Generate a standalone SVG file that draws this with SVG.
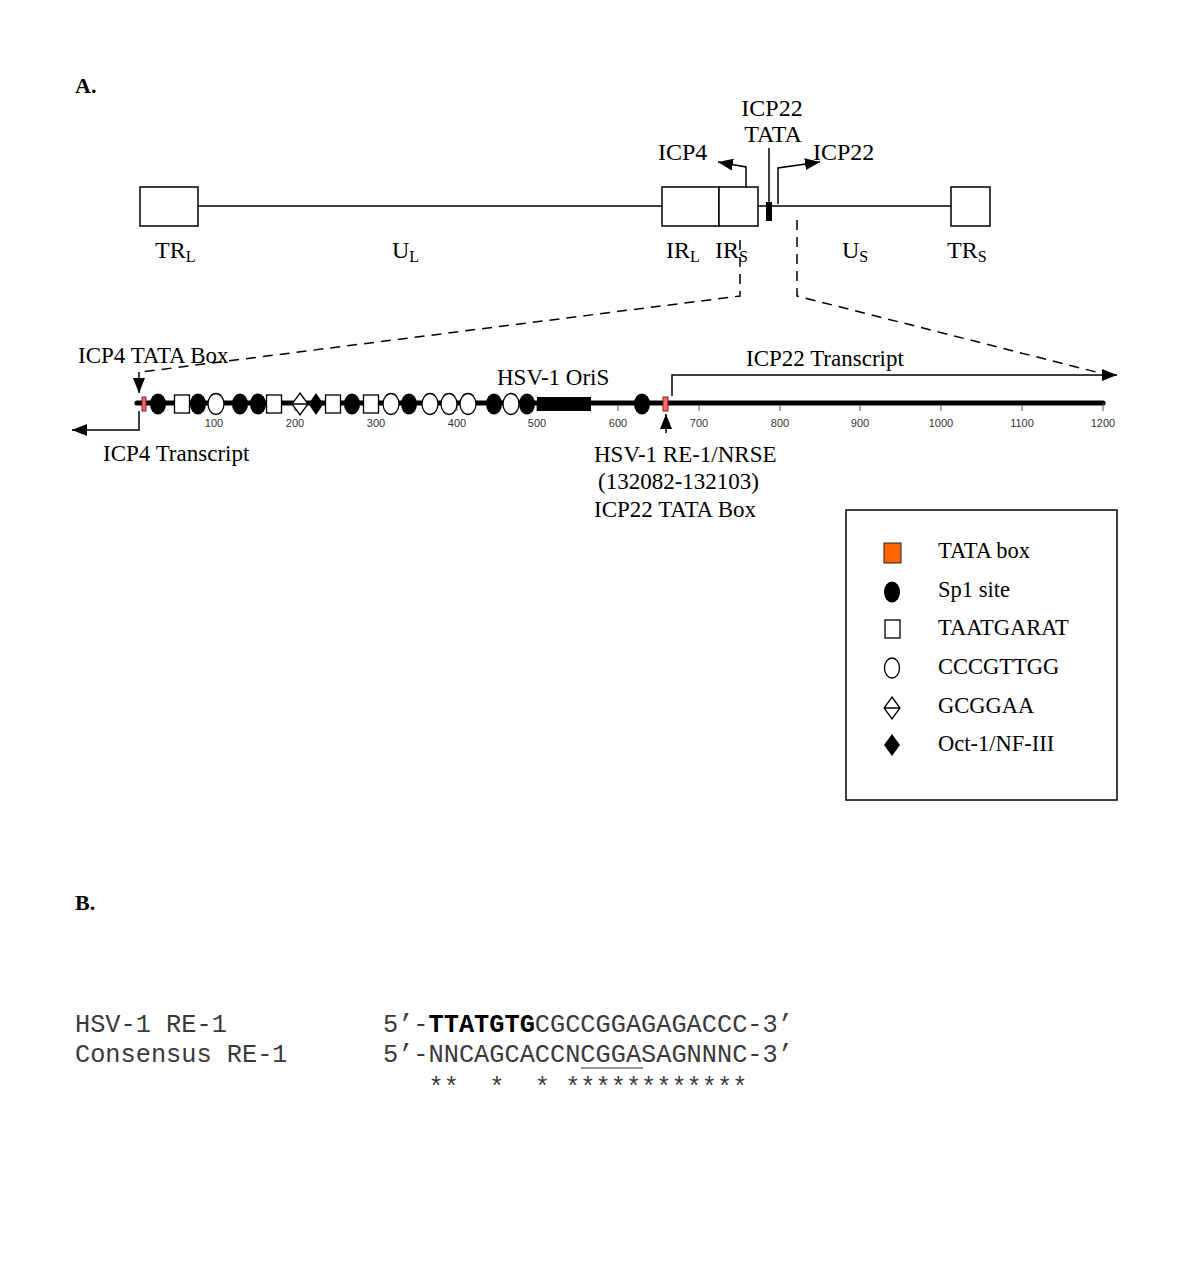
<svg xmlns="http://www.w3.org/2000/svg" width="1200" height="1286" viewBox="0 0 1200 1286">
<defs>
<style>
.serif{font-family:"Liberation Serif","Times New Roman",serif;fill:#000}
.lbl{font-size:24px}
.sub{font-size:16px}
.mid{font-size:23px}
.leg{font-size:22.5px}
.bold{font-weight:bold;font-size:22px}
.tick{font-family:"Liberation Sans",Arial,sans-serif;font-size:11px;fill:#333;text-anchor:middle}
.mono{font-family:"Liberation Mono","Courier New",monospace;font-size:25.3px;fill:#3a3a3a}
.box{fill:#fff;stroke:#000;stroke-width:1.5}
.sp1{fill:#000}
.open{fill:#fff;stroke:#000;stroke-width:1.3}
.tata{fill:#f26b6b;stroke:#8b1a1a;stroke-width:1}
.ln{fill:none;stroke:#000;stroke-width:1.5}
.dash{fill:none;stroke:#000;stroke-width:1.5;stroke-dasharray:10 7}
.tk{stroke:#555;stroke-width:1}
</style>
<marker id="ah" markerUnits="userSpaceOnUse" markerWidth="15" markerHeight="12" refX="15" refY="6" orient="auto">
<path d="M0,0 L15,6 L0,12 z" fill="#000"/>
</marker>
<ellipse id="sp" rx="8" ry="10.5" class="sp1"/>
<ellipse id="cc" rx="8" ry="10.5" class="open"/>
<rect id="sq" x="-7.5" y="-9" width="15" height="18" class="open"/>
</defs>
<rect width="1200" height="1286" fill="#fff"/>

<text class="serif bold" x="75" y="93">A.</text>
<text class="serif bold" x="75" y="910">B.</text>

<!-- Genome map -->
<g id="genome">
<line x1="198" y1="206" x2="662" y2="206" class="ln"/>
<line x1="758" y1="206" x2="951" y2="206" class="ln"/>
<g id="TRL"><rect x="140" y="187" width="58" height="39" class="box"/>
<text class="serif lbl" x="155" y="258">TR<tspan class="sub" dy="4">L</tspan></text></g>
<g id="UL"><text class="serif lbl" x="392" y="258">U<tspan class="sub" dy="4">L</tspan></text></g>
<g id="IRL"><rect x="662" y="187" width="57" height="39" class="box"/>
<text class="serif lbl" x="666" y="258">IR<tspan class="sub" dy="4">L</tspan></text></g>
<g id="IRS"><rect x="719" y="187" width="39" height="39" class="box"/>
<text class="serif lbl" x="715" y="258">IR<tspan class="sub" dy="4">S</tspan></text></g>
<g id="ICP22TATA"><rect x="766" y="202" width="6" height="19" fill="#000"/>
<line x1="769" y1="148" x2="769" y2="203" class="ln"/>
<text class="serif lbl" x="772" y="116" text-anchor="middle">ICP22</text>
<text class="serif lbl" x="773" y="142" text-anchor="middle">TATA</text></g>
<g id="US"><text class="serif lbl" x="842" y="258">U<tspan class="sub" dy="4">S</tspan></text></g>
<g id="TRS"><rect x="951" y="187" width="39" height="39" class="box"/>
<text class="serif lbl" x="947" y="258">TR<tspan class="sub" dy="4">S</tspan></text></g>
<g id="ICP4lbl"><text class="serif lbl" x="658" y="160">ICP4</text></g>
<g id="ICP22lbl"><text class="serif lbl" x="813" y="160">ICP22</text></g>
</g>

<!-- Expanded track -->
<g id="track">
<line x1="137" y1="403" x2="1103" y2="403" stroke="#000" stroke-width="5" stroke-linecap="round"/>
<g id="ticks">
<line x1="214" y1="405" x2="214" y2="411" class="tk"/><line x1="295" y1="405" x2="295" y2="411" class="tk"/>
<line x1="376" y1="405" x2="376" y2="411" class="tk"/><line x1="457" y1="405" x2="457" y2="411" class="tk"/>
<line x1="537" y1="405" x2="537" y2="411" class="tk"/><line x1="618" y1="405" x2="618" y2="411" class="tk"/>
<line x1="699" y1="405" x2="699" y2="411" class="tk"/><line x1="780" y1="405" x2="780" y2="411" class="tk"/>
<line x1="860" y1="405" x2="860" y2="411" class="tk"/><line x1="941" y1="405" x2="941" y2="411" class="tk"/>
<line x1="1022" y1="405" x2="1022" y2="411" class="tk"/><line x1="1103" y1="403" x2="1103" y2="411" class="tk"/>
<text class="tick" x="214" y="427">100</text><text class="tick" x="295" y="427">200</text>
<text class="tick" x="376" y="427">300</text><text class="tick" x="457" y="427">400</text>
<text class="tick" x="537" y="427">500</text><text class="tick" x="618" y="427">600</text>
<text class="tick" x="699" y="427">700</text><text class="tick" x="780" y="427">800</text>
<text class="tick" x="860" y="427">900</text><text class="tick" x="941" y="427">1000</text>
<text class="tick" x="1022" y="427">1100</text><text class="tick" x="1103" y="427">1200</text>
</g>
<g id="sites">
<rect x="142" y="397" width="4" height="14" class="tata"/>
<use href="#sp" x="158" y="404"/>
<use href="#sq" x="182" y="404"/>
<use href="#sp" x="198" y="404"/>
<use href="#cc" x="216" y="404"/>
<use href="#sp" x="240" y="404"/>
<use href="#sp" x="258" y="404"/>
<use href="#sq" x="274" y="404"/>
<path d="M300,393 L308,404 L300,415 L292,404 Z M292,404 L308,404" class="open"/>
<path d="M316,393 L323.5,404 L316,415 L308.5,404 Z" fill="#000"/>
<use href="#sq" x="333" y="404"/>
<use href="#sp" x="352" y="404"/>
<use href="#sq" x="371" y="404"/>
<use href="#cc" x="391" y="404"/>
<use href="#sp" x="409" y="404"/>
<use href="#cc" x="430" y="404"/>
<use href="#cc" x="449" y="404"/>
<use href="#cc" x="468" y="404"/>
<use href="#sp" x="494" y="404"/>
<use href="#cc" x="511" y="404"/>
<use href="#sp" x="527" y="404"/>
<rect x="537" y="397" width="54" height="14" fill="#000"/>
<use href="#sp" x="642" y="404"/>
<rect x="663" y="397" width="5" height="14" class="tata"/>
</g>
<g id="tracklabels">
<text class="serif mid" x="78" y="363">ICP4 TATA Box</text>
<text class="serif mid" x="497" y="385">HSV-1 OriS</text>
<text class="serif mid" x="746" y="366">ICP22 Transcript</text>
<text class="serif mid" x="103" y="461">ICP4 Transcript</text>
<text class="serif mid" x="594" y="462">HSV-1 RE-1/NRSE</text>
<text class="serif mid" x="598" y="489">(132082-132103)</text>
<text class="serif mid" x="594" y="517">ICP22 TATA Box</text>
</g>
</g>

<!-- Connectors -->
<g id="connectors">
<polyline points="746,187 746,167 718,162" class="ln" marker-end="url(#ah)"/>
<polyline points="778,204 778,168 820,162" class="ln" marker-end="url(#ah)"/>
<polyline points="740,240 740,296 141,372" class="dash"/>
<polyline points="797,220 797,296 1100,373" class="dash"/>
<line x1="139" y1="372" x2="139" y2="393" class="ln" marker-end="url(#ah)"/>
<line x1="666" y1="433" x2="666" y2="414" class="ln" marker-end="url(#ah)"/>
<polyline points="672,396 672,375 1117,375" class="ln" marker-end="url(#ah)"/>
<polyline points="139,411 139,430 72,430" class="ln" marker-end="url(#ah)"/>
</g>

<!-- Legend -->
<g id="legend">
<rect x="846" y="510" width="271" height="290" fill="#fff" stroke="#000" stroke-width="1.5"/>
<rect x="884" y="543" width="17" height="20" fill="#ff6600" stroke="#222" stroke-width="1"/>
<ellipse cx="892" cy="592" rx="8" ry="10.5" class="sp1"/>
<rect x="885" y="620" width="15" height="18" class="open"/>
<ellipse cx="892" cy="668" rx="7.5" ry="10" class="open"/>
<path d="M892,697 L900,708 L892,719 L884,708 Z M884,708 L900,708" class="open"/>
<path d="M892,734 L900,745 L892,756 L884,745 Z" fill="#000"/>
<text class="serif leg" x="938" y="558">TATA box</text>
<text class="serif leg" x="938" y="597">Sp1 site</text>
<text class="serif leg" x="938" y="635">TAATGARAT</text>
<text class="serif leg" x="938" y="674">CCCGTTGG</text>
<text class="serif leg" x="938" y="713">GCGGAA</text>
<text class="serif leg" x="938" y="751">Oct-1/NF-III</text>
</g>

<!-- Section B -->
<g id="sequences">
<text class="mono" x="75" y="1032">HSV-1 RE-1</text>
<text class="mono" x="75" y="1062">Consensus RE-1</text>
<text class="mono" x="383" y="1032">5’-<tspan font-weight="bold" fill="#000">TTATGTG</tspan>CGCCGGAGAGACCC-3’</text>
<text class="mono" x="383" y="1062">5’-NNCAGCACCNCGGASAGNNNC-3’</text>
<line x1="581" y1="1068" x2="643" y2="1068" stroke="#333" stroke-width="1.2"/>
<text class="mono" x="383" y="1095" xml:space="preserve">   **  *  * ************</text>
</g>
</svg>
